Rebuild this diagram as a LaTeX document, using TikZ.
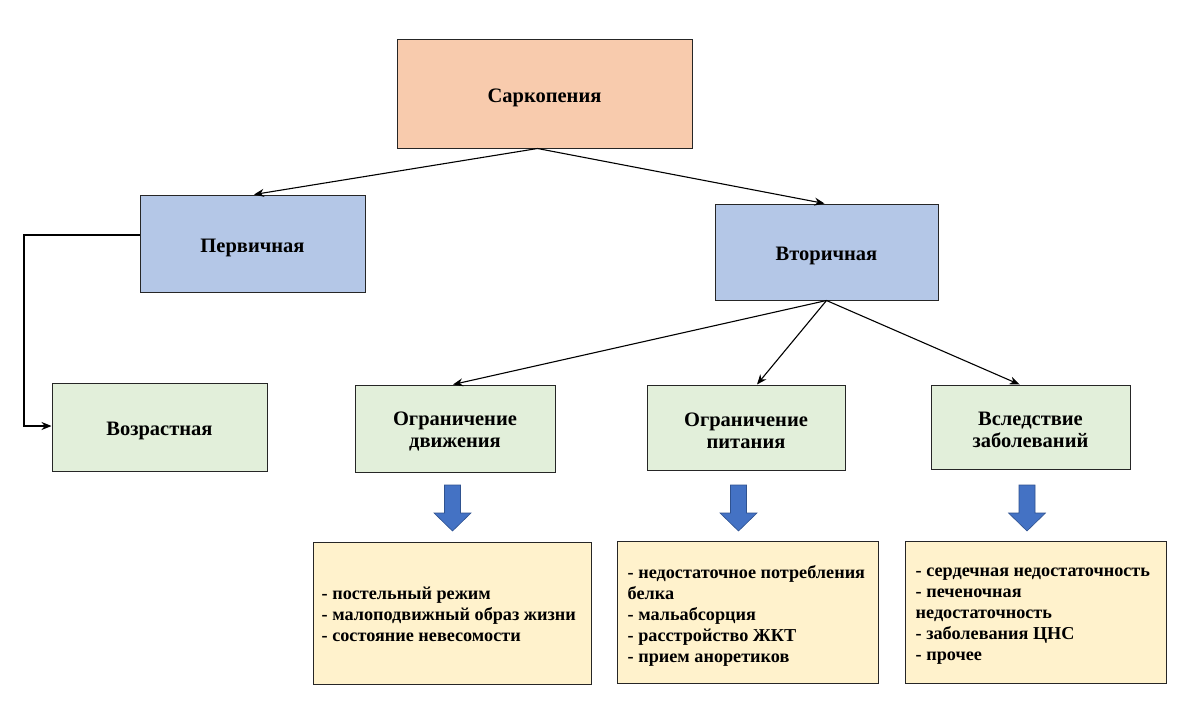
\documentclass[tikz,border=0pt]{standalone}
\usepackage{fontspec}
\setmainfont{Liberation Serif}[BoldFont={Liberation Serif Bold}]
\usetikzlibrary{arrows.meta}
\definecolor{peach}{HTML}{F8CBAD}
\definecolor{lblue}{HTML}{B4C7E7}
\definecolor{lgreen}{HTML}{E2EFDA}
\definecolor{lyellow}{HTML}{FFF2CC}
\definecolor{barrow}{HTML}{4472C4}
\definecolor{barrowline}{HTML}{2F528F}
\definecolor{boxline}{HTML}{262626}
\tikzset{
  box/.style={draw=boxline, line width=1pt, inner sep=0pt},
  boxtext/.style={inner sep=0pt, align=center, yshift=-4pt,
    font=\fontsize{20.5}{22}\selectfont\bfseries},
  topbox/.style={box, fill=peach},
  midbox/.style={box, fill=lblue},
  lowbox/.style={box, fill=lgreen},
  listbox/.style={draw=boxline, line width=1pt, fill=lyellow, inner sep=0pt},
  listtext/.style={anchor=west, align=left, inner sep=0pt,
    font=\fontsize{18.2}{21}\selectfont\bfseries},
  conn/.style={draw=black, line width=1.1pt, -{Stealth[length=10pt,width=8pt]}},
  blockarrow/.style={fill=barrow, draw=barrowline, line width=0.6pt}
}
\begin{document}
\begin{tikzpicture}[x=1pt,y=-1pt]
\useasboundingbox[fill=white] (0,0) rectangle (1200,728);

\node[topbox, minimum width=295, minimum height=109] (sark) at (544.5,93.5) {};
\node[midbox, minimum width=225, minimum height=97] (perv) at (252.5,243.5) {};
\node[midbox, minimum width=223, minimum height=96] (vtor) at (826.5,252) {};
\node[lowbox, minimum width=215, minimum height=88] (vozr) at (159.5,427) {};
\node[lowbox, minimum width=200, minimum height=87] (dvig) at (455,428.5) {};
\node[lowbox, minimum width=198, minimum height=85] (pit) at (746,427.5) {};
\node[lowbox, minimum width=199, minimum height=84] (zab) at (1030.5,427) {};

\node[boxtext] (sarkT) at (sark) {Саркопения};
\node[boxtext] (pervT) at (perv) {Первичная};
\node[boxtext] (vtorT) at (vtor) {Вторичная};
\node[boxtext] (vozrT) at (vozr) {Возрастная};
\node[boxtext] (dvigT) at ([yshift=1pt]dvig) {Ограничение\\движения};
\node[boxtext] (pitT) at ([yshift=1pt]pit) {Ограничение\\питания};
\node[boxtext] (zabT) at ([yshift=1pt]zab) {Вследствие\\заболеваний};

% connectors
\draw[conn] ([xshift=-7pt]sark.south) -- ([xshift=1.5pt]perv.north);
\draw[conn] ([xshift=-7pt]sark.south) -- ([xshift=-2pt]vtor.north);
\coordinate (bendA) at (24,235);
\coordinate (bendB) at (24,426);
\draw[conn] (perv.west |- bendA) -- (bendA) -- (bendB) -- (vozr.west |- bendB);
\draw[conn] (vtor.south) -- ([xshift=-2pt]dvig.north);
\draw[conn] (vtor.south) -- ([xshift=11pt]pit.north);
\draw[conn] (vtor.south) -- ([xshift=-11pt]zab.north);

% block arrows
\foreach \cx in {452.5, 738.5, 1027}{
  \draw[blockarrow] (\cx-8,485) -- (\cx+8,485) -- (\cx+8,513) -- (\cx+18.5,513)
     -- (\cx,531) -- (\cx-18.5,513) -- (\cx-8,513) -- cycle;
}

% list boxes
\node[listbox, minimum width=278, minimum height=142] (l1) at (452,613) {};
\node[listbox, minimum width=261, minimum height=142] (l2) at (747.5,612) {};
\node[listbox, minimum width=261, minimum height=142] (l3) at (1035.5,612) {};

\node[listtext] (t1) at ([xshift=9pt,yshift=-1pt]l1.west) {- постельный режим\\- малоподвижный образ жизни\\- состояние невесомости};
\node[listtext] (t2) at ([xshift=11pt,yshift=-4pt]l2.west) {- недостаточное потребления\\белка\\- мальабсорция\\- расстройство ЖКТ\\- прием аноретиков};
\node[listtext] (t3) at ([xshift=11pt,yshift=-4pt]l3.west) {- сердечная недостаточность\\- печеночная\\недостаточность\\- заболевания ЦНС\\- прочее};
\end{tikzpicture}
\end{document}
